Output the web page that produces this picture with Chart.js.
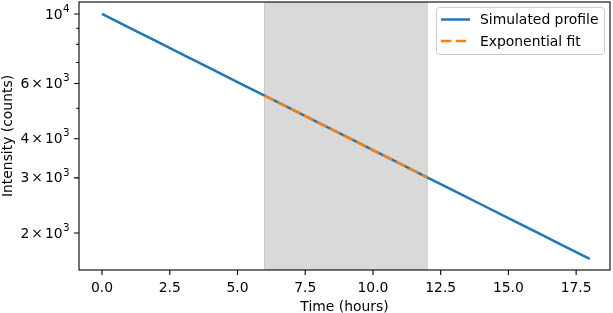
<!DOCTYPE html>
<html>
<head>
<meta charset="utf-8">
<script src="https://cdn.jsdelivr.net/npm/chart.js@4/dist/chart.umd.min.js"></script>
<style>
  html, body { margin: 0; padding: 0; background: #fff; }
  #wrap { width: 613px; height: 313px; }
</style>
</head>
<body>
<div id="wrap"><canvas id="chart" width="613" height="313"></canvas></div>
<script>
// simulated profile, one point per hour
const hours = [0, 1, 2, 3, 4, 5, 6, 7, 8, 9, 10, 11, 12, 13, 14, 15, 16, 17, 18];
const intensity = [10000, 9048, 8187, 7408, 6703, 6065, 5488, 4966, 4493, 4066,
                   3679, 3329, 3012, 2725, 2466, 2231, 2019, 1827, 1653];

// exponential fit over the shaded window
const fitHours = [6, 7, 8, 9, 10, 11, 12];
const fitValues = [5488, 4966, 4493, 4066, 3679, 3329, 3012];

const fitWindow = [6, 12];

const xTicks = [0, 2.5, 5, 7.5, 10, 12.5, 15, 17.5];
const yMajor = [2000, 3000, 4000, 6000, 10000];
const yMinor = [5000, 7000, 8000, 9000];
// [mantissa, exponent]; no mantissa for the power of ten itself
const yLabels = { 2000: ['2', '3'], 3000: ['3', '3'], 4000: ['4', '3'],
                  6000: ['6', '3'], 10000: [null, '4'] };

const FONT = 'DejaVu Sans';
const FS = 13.9;
const TICK_MAJ = 4.9, TICK_MIN = 2.8;
const LW = 2.5;

const toXY = (xs, ys) => xs.map((x, i) => ({ x: x, y: ys[i] }));

// shaded span + frame + tick marks + y labels + legend
const decor = {
  id: 'decor',
  beforeDatasetsDraw(chart) {
    const { ctx, chartArea: a, scales } = chart;
    const x0 = scales.x.getPixelForValue(fitWindow[0]);
    const x1 = scales.x.getPixelForValue(fitWindow[1]);
    ctx.save();
    ctx.fillStyle = '#d9d9d9';
    ctx.fillRect(x0, a.top, x1 - x0, a.bottom - a.top);
    ctx.strokeStyle = '#c6c6c6';
    ctx.lineWidth = 1;
    ctx.beginPath();
    ctx.moveTo(x0, a.top); ctx.lineTo(x0, a.bottom);
    ctx.moveTo(x1, a.top); ctx.lineTo(x1, a.bottom);
    ctx.stroke();
    ctx.restore();
  },
  afterDraw(chart) {
    const { ctx, chartArea: a, scales } = chart;
    ctx.save();
    ctx.strokeStyle = '#000';
    ctx.lineWidth = 1.1;
    ctx.strokeRect(a.left, a.top, a.right - a.left, a.bottom - a.top);
    ctx.beginPath();
    xTicks.forEach(v => {
      const px = scales.x.getPixelForValue(v);
      ctx.moveTo(px, a.bottom); ctx.lineTo(px, a.bottom + TICK_MAJ);
    });
    yMajor.forEach(v => {
      const py = scales.y.getPixelForValue(v);
      ctx.moveTo(a.left, py); ctx.lineTo(a.left - TICK_MAJ, py);
    });
    yMinor.forEach(v => {
      const py = scales.y.getPixelForValue(v);
      ctx.moveTo(a.left, py); ctx.lineTo(a.left - TICK_MIN, py);
    });
    ctx.stroke();

    // y tick labels, drawn right to left: exponent, "10", "×", mantissa
    ctx.fillStyle = '#000';
    ctx.textBaseline = 'middle';
    ctx.textAlign = 'right';
    const supFont = (FS * 0.75).toFixed(1) + 'px "' + FONT + '"';
    const baseFont = FS + 'px "' + FONT + '"';
    yMajor.forEach(v => {
      const py = scales.y.getPixelForValue(v);
      const [mant, exp] = yLabels[v];
      let x = a.left - TICK_MAJ - 4.4;
      ctx.font = supFont;
      ctx.fillText(exp, x, py - 5);
      x -= ctx.measureText(exp).width + 0.5;
      ctx.font = baseFont;
      ctx.fillText('10', x, py + 1);
      if (mant) {
        x -= ctx.measureText('10').width + 2;
        ctx.fillText('×', x, py + 1);
        x -= ctx.measureText('×').width + 2;
        ctx.fillText(mant, x, py + 1);
      }
    });

    // legend
    const bx = 436, by = 7, bw = 168, bh = 47, r = 3;
    ctx.fillStyle = 'rgba(255,255,255,0.8)';
    ctx.strokeStyle = '#cccccc';
    ctx.lineWidth = 1;
    ctx.beginPath();
    ctx.roundRect(bx + 0.5, by + 0.5, bw, bh, r);
    ctx.fill();
    ctx.stroke();
    ctx.font = baseFont;
    ctx.textBaseline = 'middle';
    ctx.textAlign = 'left';
    const rows = [
      { label: chart.data.datasets[0].label, color: '#1f77b4', dash: [], y: 19.5 },
      { label: chart.data.datasets[1].label, color: '#ff7f0e', dash: [10.3, 4.4], y: 41 }
    ];
    rows.forEach(row => {
      ctx.strokeStyle = row.color;
      ctx.lineWidth = LW;
      ctx.setLineDash(row.dash);
      ctx.beginPath();
      ctx.moveTo(441, row.y); ctx.lineTo(470, row.y);
      ctx.stroke();
      ctx.setLineDash([]);
      ctx.fillStyle = '#000';
      ctx.fillText(row.label, 480, row.y + 1);
    });
    ctx.restore();
  }
};

new Chart(document.getElementById('chart'), {
  type: 'line',
  data: {
    datasets: [
      {
        label: 'Simulated profile',
        data: toXY(hours, intensity),
        borderColor: '#1f77b4',
        borderWidth: LW,
        pointRadius: 0,
        tension: 0,
        order: 2
      },
      {
        label: 'Exponential fit',
        data: toXY(fitHours, fitValues),
        borderColor: '#ff7f0e',
        borderWidth: LW,
        borderDash: [10.3, 4.4],
        borderCapStyle: 'butt',
        pointRadius: 0,
        tension: 0,
        order: 1
      }
    ]
  },
  options: {
    responsive: false,
    animation: false,
    devicePixelRatio: 1,
    layout: { padding: { top: 2, right: 3, left: 0, bottom: 0 } },
    plugins: { legend: { display: false }, tooltip: { enabled: false } },
    scales: {
      x: {
        type: 'linear',
        min: -0.85,
        max: 18.75,
        grid: { display: false, drawTicks: false },
        border: { display: false },
        afterBuildTicks: s => { s.ticks = xTicks.map(v => ({ value: v })); },
        afterFit: s => { s.height = 43; s.paddingLeft = 0; s.paddingRight = 0; },
        ticks: {
          autoSkip: false,
          maxRotation: 0,
          padding: 10,
          color: '#000',
          font: { family: FONT, size: FS },
          callback: v => v.toFixed(1)
        },
        title: {
          display: true,
          text: 'Time (hours)',
          color: '#000',
          font: { family: FONT, size: FS },
          padding: { top: 5, bottom: -3 }
        }
      },
      y: {
        type: 'logarithmic',
        min: 1524,
        max: 10920,
        grid: { display: false, drawTicks: false },
        border: { display: false },
        afterBuildTicks: s => { s.ticks = yMajor.map(v => ({ value: v })); },
        afterFit: s => { s.width = 79; s.paddingTop = 0; s.paddingBottom = 0; },
        ticks: {
          display: false
        },
        title: {
          display: true,
          text: 'Intensity (counts)',
          color: '#000',
          font: { family: FONT, size: FS },
          padding: { top: 0, bottom: 0 }
        }
      }
    }
  },
  plugins: [decor]
});
</script>
</body>
</html>
